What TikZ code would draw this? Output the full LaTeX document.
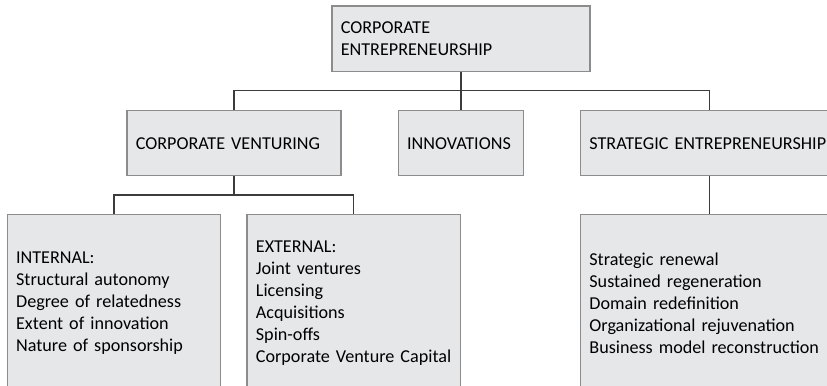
\documentclass[tikz,border=0pt]{standalone}
\usepackage{fontspec}
\setmainfont{Carlito}
\usetikzlibrary{positioning}

\definecolor{boxfill}{RGB}{230,231,232}
\definecolor{boxline}{RGB}{140,140,140}
\definecolor{linkline}{RGB}{60,60,60}

\begin{document}
\begin{tikzpicture}[
    box/.style={draw=boxline,fill=boxfill,line width=0.9pt,inner xsep=0.22cm,inner ysep=0pt,align=left,
      font=\fontsize{12.9}{15.6}\selectfont},
    link/.style={draw=linkline,line width=0.95pt}
  ]
    \useasboundingbox (0,0) rectangle (20.675,-9.65);
    \clip (0,0) rectangle (20.675,-9.65);

    % Top level
    \node[box,text width=6.01cm,minimum height=1.6375cm] (corpent) at (11.525,-0.969) {CORPORATE\\ENTREPRENEURSHIP};

    % Second level
    \node[box,text width=4.91cm,minimum height=1.625cm] (corpvent) at (5.85,-3.58) {CORPORATE VENTURING};
    \node[box,text width=2.695cm,minimum height=1.625cm] (innov) at (11.525,-3.58) {INNOVATIONS};
    \node[box,text width=6.01cm,minimum height=1.625cm] (strent) at (17.74,-3.58) {STRATEGIC ENTREPRENEURSHIP};

    % Third level
    \node[box,text width=4.895cm,minimum height=4.45cm] (internal) at (2.85,-7.58)
      {INTERNAL:\\Structural autonomy\\Degree of relatedness\\Extent of innovation\\Nature of sponsorship};
    \node[box,text width=4.89cm,minimum height=4.45cm] (external) at (8.8425,-7.58)
      {EXTERNAL:\\Joint ventures\\Licensing\\Acquisitions\\Spin-offs\\Corporate Venture Capital};
    \node[box,text width=6.01cm,minimum height=4.45cm] (strtypes) at (17.74,-7.58)
      {Strategic renewal\\Sustained regeneration\\Domain redefinition\\Organizational rejuvenation\\Business model reconstruction};

    % Connectors
    \coordinate (busA) at (11.525,-2.2675);
    \coordinate (busB) at (5.85,-4.875);
    \draw[link] (corpent.south) -- (innov.north);
    \draw[link] (corpvent.north) |- (busA) -| (strent.north);
    \draw[link] (corpvent.south) -- (busB);
    \draw[link] (internal.north) |- (busB) -| (external.north);
    \draw[link] (strent.south) -- (strtypes.north);
\end{tikzpicture}
\end{document}
